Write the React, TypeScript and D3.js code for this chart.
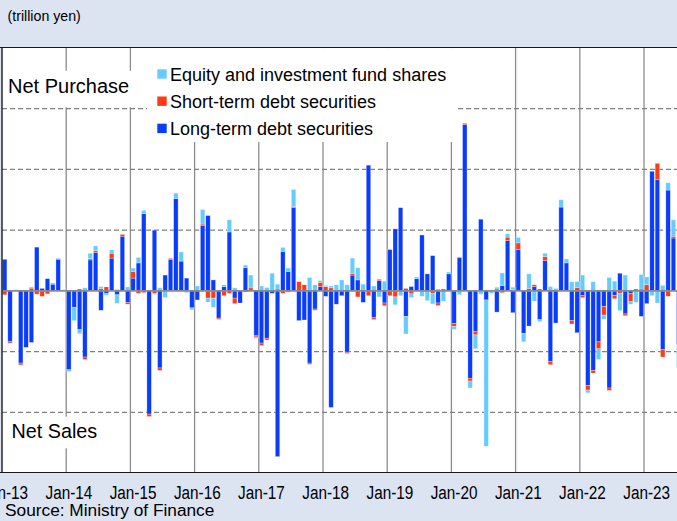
import React from "react";
import * as d3 from "d3";

const W = 677;
const H = 521;

// monthly values, trillion yen, Jan-13 onward
const longTerm = [
  1.04, -1.66, 0, -2.38, -1.86, -1.7, 1.44, 0.08, 0.4, 0.22, 1.04, 0,
  -2.6, -0.54, -1.28, -2.18, 1.02, 1.26, -0.64, -0.08, 1.08, -0.13, 1.8, -0.38,
  0.42, 0.92, 2.54, -4.06, 2.0, -2.54, 0.52, 1.04, 3.04, 0.98, 0.42, -0.56,
  -0.3, 2.16, 2.48, 0.36, -0.9, 0.14, 1.94, -0.24, -0.4, 0.76, 0.06, -1.48,
  -1.72, -1.56, -0.08, -5.46, 1.3, 0.64, 2.74, -0.98, -0.96, -2.38, -0.6, 0.14,
  -0.18, -3.84, -0.44, -0.16, -2.02, 0.52, 0.36, -0.38, 4.14, -0.88, 0.34, -0.4,
  1.36, 2.04, 2.74, -0.84, 0.14, 0.4, 1.84, 0.56, 1.16, -0.4, 0, 0.56,
  -1.08, 1.1, 5.48, -2.88, -1.34, 2.36, -0.3, 0, -0.7, 0.17, 1.66, -0.72,
  1.36, -1.4, -1.16, 0.14, -0.95, 1.0, -2.32, -1.06, 2.76, 0.92, -0.98, -1.38,
  -0.16, -3.12, -2.62, -1.68, -0.52, -3.2, -0.15, 0.58, -0.76, -0.08, 0, -0.84,
  -0.42, 3.94, 3.66, -1.94, 3.32, 1.74, -1.76,
];
const shortTerm = [
  -0.13, -0.06, 0, -0.06, 0, 0.09, -0.11, -0.18, -0.1, 0, 0.02, 0,
  0, 0, 0.06, -0.08, 0.04, 0.06, 0.08, 0.13, 0.16, 0.04, 0.06, -0.06,
  0.22, -0.08, -0.06, -0.08, -0.08, -0.08, 0, 0.03, 0, 0, 0, 0,
  0, 0.04, -0.24, -0.24, -0.04, -0.16, -0.08, -0.18, 0, -0.04, 0.06, -0.04,
  -0.08, -0.06, 0, 0.06, -0.08, -0.04, 0.04, 0.3, 0.2, -0.04, -0.04, 0.14,
  0.14, 0.1, 0, 0, -0.04, 0.06, -0.2, 0, -0.16, -0.06, 0.04, -0.09,
  -0.16, -0.2, 0, 0.08, -0.1, 0, 0, 0, -0.09, -0.08, 0.06, 0,
  -0.09, 0, 0.04, -0.09, -0.11, 0, 0, 0, 0.06, -0.06, 0.11, 0.04,
  0.22, 0, 0.08, 0.06, 0.06, 0.13, -0.11, 0, 0, 0, -0.11, 0.11,
  -0.06, -0.15, -0.09, -0.23, -0.28, -0.08, -0.11, -0.09, -0.06, -0.28, 0.06, 0.06,
  0.2, 0, 0.54, -0.24, -0.18, 0.06, 0,
];
const equity = [
  0, 0, 0.04, 0, 0, 0.04, 0, 0, 0, 0.04, 0.02, 0.04,
  -0.06, -0.44, -0.13, 0.1, 0.18, 0.16, 0.06, -0.06, 0.11, -0.28, 0, 0.13,
  0.11, 0.18, 0.11, 0, -0.04, 0.1, -0.22, 0, 0.18, 0.3, -0.06, -0.06,
  0.16, 0.48, -0.13, -0.3, 0, 0.06, 0.4, 0.1, 0, 0.09, 0.4, -0.04,
  0.16, 0.11, 0.58, 0.16, 0.13, 0.11, 0.56, 0, 0, 0.44, 0.2, 0.06,
  0.04, 0.06, 0.2, 0.36, 0.2, 0.5, 0.4, 0.22, 0, 0.16, -0.2, 0.32,
  0, -0.26, -0.16, -0.58, -0.12, 0.06, -0.18, -0.32, -0.34, 0.06, -0.34, 0.06,
  -0.1, -0.13, 0, -0.23, -0.46, -0.11, -4.82, -0.08, 0.06, 0.42, 0.11, 0.08,
  0.18, -0.28, 0.48, -0.34, -0.06, 0.11, 0.14, 0.08, 0.24, 0.13, 0.3, 0.2,
  0.52, -0.09, 0.3, -0.35, -0.13, 0.44, 0.32, -0.56, 0.52, -0.08, -0.38, 0.48,
  0.26, -0.16, -0.4, 0.18, 0.24, 0.54, -0.76,
];
const yearLabels = [
  "Jan-13", "Jan-14", "Jan-15", "Jan-16", "Jan-17", "Jan-18",
  "Jan-19", "Jan-20", "Jan-21", "Jan-22", "Jan-23",
];
const legendNames = [
  "Equity and investment fund shares",
  "Short-term debt securities",
  "Long-term debt securities",
];
const legendKeys = ["eq", "short", "long"];
const yGrid = [-4, -2, 0, 2, 4, 6];

const COLORS: Record<string, string> = {
  long: "#0a3cff",
  short: "#ff3a14",
  eq: "#66ccff",
};
const BG = "#dce3f1";
const FONT = "'Liberation Sans', Arial, sans-serif";

export default function App() {
  const n = longTerm.length;
  const idx = d3.range(n);
  const plotL = 2;
  const plotT = 47.5;
  const plotB = 472.5;
  const step = 5.35;

  const x = d3
    .scaleBand<number>()
    .domain(idx)
    .range([plotL, plotL + step * n])
    .paddingInner(0.17)
    .paddingOuter(0.085);
  const y = d3.scaleLinear().domain([-6, 8]).range([473, 48]);
  const bw = x.bandwidth();
  const boundary = (i: number) => (x(i) as number) - (x.step() * x.paddingInner()) / 2;

  const rows = idx.map((i) => ({
    i,
    long: longTerm[i],
    short: shortTerm[i],
    eq: equity[i],
  }));
  const stacked = d3
    .stack<any>()
    .keys(["long", "short", "eq"])
    .offset(d3.stackOffsetDiverging)(rows);

  const yearIdx = yearLabels.map((_, k) => k * 12);

  return (
    <svg
      width={W}
      height={H}
      style={{ position: "absolute", left: 0, top: 0, display: "block" }}
      fontFamily={FONT}
    >
      <rect x={0} y={0} width={W} height={H} fill={BG} />
      <rect x={plotL} y={plotT} width={W - plotL + 5} height={plotB - plotT} fill="#ffffff" />

      {/* vertical year gridlines */}
      {yearIdx.slice(1).map((i) => (
        <line
          key={"v" + i}
          x1={boundary(i)}
          x2={boundary(i)}
          y1={plotT}
          y2={plotB}
          stroke="#8c8c8c"
          strokeWidth={1.3}
        />
      ))}
      {/* horizontal dashed gridlines */}
      {yGrid
        .filter((v) => v !== 0)
        .map((v) => (
          <line
            key={"h" + v}
            x1={plotL}
            x2={W}
            y1={y(v)}
            y2={y(v)}
            stroke="#808080"
            strokeWidth={1.3}
            strokeDasharray="5,3"
          />
        ))}

      {/* bars */}
      {stacked.map((s) => (
        <g key={s.key} fill={COLORS[s.key]}>
          {s.map((d, j) => {
            const y0 = y(d[0]);
            const y1 = y(d[1]);
            const h = Math.abs(y0 - y1);
            if (h < 0.01) return null;
            return (
              <rect
                key={j}
                x={x(j) as number}
                y={Math.min(y0, y1)}
                width={bw}
                height={h}
                stroke="#ffffff"
                strokeOpacity={0.45}
                strokeWidth={0.6}
              />
            );
          })}
        </g>
      ))}

      {/* zero line */}
      <line x1={plotL} x2={W} y1={y(0)} y2={y(0)} stroke="#8a8a8a" strokeWidth={1.6} />

      {/* plot borders */}
      <line x1={0} x2={W} y1={plotT} y2={plotT} stroke="#1a1a1a" strokeWidth={1.2} />
      <line x1={0} x2={W} y1={plotB} y2={plotB} stroke="#1a1a1a" strokeWidth={1.2} />
      <line x1={plotL} x2={plotL} y1={plotT} y2={plotB} stroke="#1a1a1a" strokeWidth={1.4} />

      {/* Net Purchase label */}
      <rect x={4} y={70.7} width={138} height={36.5} fill="#ffffff" />
      <text x={8} y={93.3} fontSize={20} fill="#000">
        Net Purchase
      </text>
      {/* Net Sales label */}
      <rect x={8} y={416.7} width={94} height={31.6} fill="#ffffff" />
      <text x={11.5} y={438.3} fontSize={19.8} fill="#000">
        Net Sales
      </text>

      {/* legend */}
      <rect x={147} y={plotT + 0.6} width={311} height={142 - plotT - 0.6} fill="#ffffff" />
      {legendNames.map((name, k) => {
        const cy = 74 + k * 27.2;
        return (
          <g key={name}>
            <rect x={157.3} y={cy - 4.7} width={9.4} height={9.4} fill={COLORS[legendKeys[k]]} />
            <text x={170} y={cy + 6.5} fontSize={18} fill="#000">
              {name}
            </text>
          </g>
        );
      })}

      {/* unit label */}
      <text x={7.5} y={20.5} fontSize={14.2} fill="#000">
        (trillion yen)
      </text>

      {/* x-axis labels */}
      {yearIdx.map((i, k) => {
        const cx = (x(i) as number) + bw / 2;
        return (
          <text
            key={"xl" + i}
            transform={`translate(${cx},498.5) scale(0.87,1)`}
            textAnchor="middle"
            fontSize={17.6}
            fill="#000"
          >
            {yearLabels[k]}
          </text>
        );
      })}
      <text x={5} y={515.5} fontSize={17.3} fill="#000">
        Source: Ministry of Finance
      </text>
    </svg>
  );
}
